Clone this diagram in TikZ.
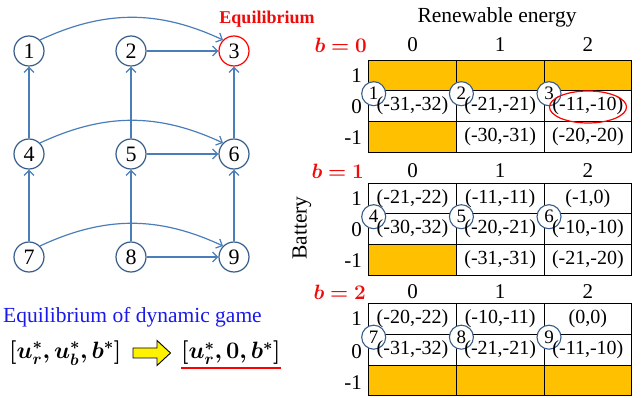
\documentclass[tikz,border=0pt]{standalone}
\usepackage{fontspec}
\setmainfont{Liberation Serif}
\usepackage{amsmath,bm}
\usetikzlibrary{arrows.meta,shapes.geometric}
\definecolor{arrblue}{RGB}{74,126,187}
\definecolor{nodeblue}{RGB}{56,93,138}
\definecolor{cellorange}{RGB}{255,192,0}
\definecolor{eqred}{RGB}{240,10,10}
\definecolor{txtblue}{RGB}{25,25,235}
\begin{document}
\begin{tikzpicture}[x=1pt,y=1pt,
  gnode/.style={circle, draw=nodeblue, line width=1.2pt, minimum size=30pt, inner sep=0pt, fill=white, font=\fontsize{22}{22}\selectfont},
  garr/.style={draw=arrblue, line width=1.2pt, -{Straight Barb[length=5pt,width=10pt]}},
  cell/.style={draw=black, line width=0.7pt, minimum width=87.7pt, minimum height=30.7pt, inner sep=0pt},
  ocell/.style={cell, fill=cellorange},
  tnum/.style={circle, draw=nodeblue, fill=white, line width=1.1pt, minimum size=24pt, inner sep=0pt, font=\fontsize{19}{19}\selectfont},
  val/.style={font=\fontsize{20}{20}\selectfont, inner sep=0pt},
  lab/.style={font=\fontsize{21}{21}\selectfont, inner sep=0pt},
  bl/.style={font=\fontsize{21}{21}\selectfont, text=eqred, inner sep=0pt, anchor=east},
  formula/.style={anchor=west, font=\fontsize{23.5}{23.5}\selectfont, inner sep=0pt, scale=0.95}
]
\useasboundingbox (0,0) rectangle (641,-398);

% ---------- graph ----------
\node[gnode] (n1) at (29,-51) {1};
\node[gnode] (n2) at (131,-51) {2};
\node[gnode, draw=red] (n3) at (234,-51) {3};
\node[gnode] (n4) at (29,-154) {4};
\node[gnode] (n5) at (131,-154) {5};
\node[gnode] (n6) at (234,-154) {6};
\node[gnode] (n7) at (29,-257) {7};
\node[gnode] (n8) at (131,-257) {8};
\node[gnode] (n9) at (234,-257) {9};

\draw[garr] (n7) -- (n4);
\draw[garr] (n4) -- (n1);
\draw[garr] (n8) -- (n5);
\draw[garr] (n5) -- (n2);
\draw[garr] (n9) -- (n6);
\draw[garr] (n6) -- (n3);
\draw[garr] (n2) -- (n3);
\draw[garr] (n5) -- (n6);
\draw[garr] (n8) -- (n9);
\draw[garr] (n1.45) to[out=25,in=155] (n3.135);
\draw[garr] (n4.45) to[out=25,in=155] (n6.135);
\draw[garr] (n7.45) to[out=25,in=155] (n9.135);

\node[font=\fontsize{18}{18}\selectfont\bfseries, text=eqred] (eqlab) at (267,-19) {Equilibrium};

% ---------- tables ----------
\node[font=\fontsize{21.5}{21.5}\selectfont] (ren) at (497,-17) {Renewable energy};
\node[font=\fontsize{21.5}{21.5}\selectfont, rotate=90] (bat) at (302,-228) {Battery};

% table 1 (top 60)
\foreach \c/\s in {0/ocell,1/ocell,2/ocell} \node[\s] (a1\c) at ({412.5+87.7*\c},-75.35) {};
\foreach \c/\s in {0/cell,1/cell,2/cell} \node[\s] (a2\c) at ({412.5+87.7*\c},-106.05) {};
\foreach \c/\s in {0/ocell,1/cell,2/cell} \node[\s] (a3\c) at ({412.5+87.7*\c},-136.75) {};
% table 2 (top 183)
\foreach \c/\s in {0/cell,1/cell,2/cell} \node[\s] (b1\c) at ({412.5+87.7*\c},-198.35) {};
\foreach \c/\s in {0/cell,1/cell,2/cell} \node[\s] (b2\c) at ({412.5+87.7*\c},-229.05) {};
\foreach \c/\s in {0/ocell,1/cell,2/cell} \node[\s] (b3\c) at ({412.5+87.7*\c},-259.75) {};
% table 3 (top 303.5)
\foreach \c/\s in {0/cell,1/cell,2/cell} \node[\s] (c1\c) at ({412.5+87.7*\c},-318.85) {};
\foreach \c/\s in {0/cell,1/cell,2/cell} \node[\s] (c2\c) at ({412.5+87.7*\c},-349.55) {};
\foreach \c/\s in {0/ocell,1/ocell,2/ocell} \node[\s] (c3\c) at ({412.5+87.7*\c},-380.25) {};

% column headers
\foreach \t/\y in {A/45,B/171,C/292} {
  \foreach \c in {0,1,2} \node[lab] (h\t\c) at ({412.5+87.7*\c},-\y) {\c};
}
% row labels
\foreach \t/\ya/\yb/\yc in {A/75.35/107/137.5,B/198.35/229.5/260.5,C/318.85/352/383} {
  \node[lab, anchor=east] (ra\t) at (362,-\ya) {1};
  \node[lab, anchor=east] (rb\t) at (362,-\yb) {0};
  \node[lab, anchor=east] (rc\t) at (362,-\yc) {-1};
}
% b labels
\node[bl] (bz) at (367,-45) {$\bm{b=0}$};
\node[bl] (bo) at (364,-171) {$\bm{b=1}$};
\node[bl] (bt) at (366,-292) {$\bm{b=2}$};

% circled numbers
\node[tnum] (k1) at (373.7,-93.7) {1};
\node[tnum] (k2) at (461.4,-93.7) {2};
\node[tnum] (k3) at (549.0,-93.7) {3};
\node[tnum] (k4) at (373.7,-216.7) {4};
\node[tnum] (k5) at (461.4,-216.7) {5};
\node[tnum] (k6) at (549.0,-216.7) {6};
\node[tnum] (k7) at (373.7,-337.2) {7};
\node[tnum] (k8) at (461.4,-337.2) {8};
\node[tnum] (k9) at (549.0,-337.2) {9};

% values
\node[val] (v120) at (a20) {(-31,-32)};
\node[val] (v121) at (a21) {(-21,-21)};
\node[val] (v122) at (a22) {(-11,-10)};
\node[val] (v131) at (a31) {(-30,-31)};
\node[val] (v132) at (a32) {(-20,-20)};
\node[val] (v210) at (b10) {(-21,-22)};
\node[val] (v211) at (b11) {(-11,-11)};
\node[val] (v212) at (b12) {(-1,0)};
\node[val] (v220) at (b20) {(-30,-32)};
\node[val] (v221) at (b21) {(-20,-21)};
\node[val] (v222) at (b22) {(-10,-10)};
\node[val] (v231) at (b31) {(-31,-31)};
\node[val] (v232) at (b32) {(-21,-20)};
\node[val] (v310) at (c10) {(-20,-22)};
\node[val] (v311) at (c11) {(-10,-11)};
\node[val] (v312) at (c12) {(0,0)};
\node[val] (v320) at (c20) {(-31,-32)};
\node[val] (v321) at (c21) {(-21,-21)};
\node[val] (v322) at (c22) {(-11,-10)};

\node[ellipse, draw=red, line width=1.2pt, minimum width=77pt, minimum height=32pt, inner sep=0pt] (eqell) at (588,-107) {};

% ---------- bottom left ----------
\node[anchor=west, text=txtblue, font=\fontsize{21.5}{21.5}\selectfont, inner sep=0pt] (title) at (3,-317) {Equilibrium of dynamic game};
\node[formula] (f1) at (9,-353) {$\bm{[u_r^*, u_b^*, b^*]}$};
\node[formula] (f2) at (181,-353) {$\bm{[u_r^*, 0, b^*]}$};
\draw[red, line width=1.5pt] ([yshift=-3pt]f2.south west) -- ([yshift=-3pt]f2.south east);
\draw[black, line width=0.9pt, fill=yellow]
  (133,-348) -- (157,-348) -- (157,-340.5) -- (170.5,-353) -- (157,-365.5) -- (157,-358) -- (133,-358) -- cycle;
\end{tikzpicture}
\end{document}
